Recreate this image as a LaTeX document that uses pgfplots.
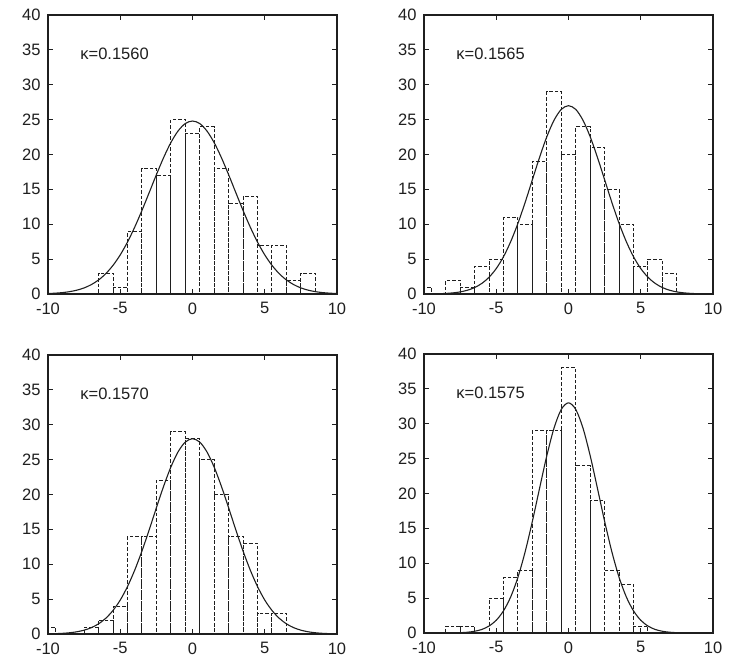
\documentclass[border=0pt]{standalone}
\usepackage{pgfplots}
\pgfplotsset{compat=1.18}
\usepackage{fontspec}
\setmainfont{Liberation Sans}
\definecolor{ink}{gray}{0.12}
\pgfplotsset{
  hist/.style={
    scale only axis, width=289bp, height=279bp,
    anchor=south west,
    xmin=-10, xmax=10, ymin=0, ymax=40,
    xtick={-10,-5,0,5,10}, ytick={0,5,...,40},
    tick align=inside, major tick length=5bp,
    axis line style={ink, line width=1.3bp},
    every tick/.style={ink, line width=1bp},
    /pgf/number format/assume math mode=true,
    ticklabel style={font=\fontsize{16.5bp}{18bp}\selectfont, text=ink},
    yticklabel style={xshift=-4bp},
    xticklabel style={yshift=-5bp},
    clip=true,
  },
  bars/.style={ybar, bar width=1, bar shift=0pt, draw=ink, fill=none, line width=1bp, dash pattern=on 3.5bp off 2bp},
  fit/.style={smooth, ink, line width=1.1bp, mark=none},
}
\begin{document}
\begin{tikzpicture}
\useasboundingbox (0,0) rectangle (731bp,-660bp);
% top left
\begin{axis}[hist, at={(48bp,-294bp)}]
\addplot[bars] coordinates {(-6,3)(-5,1)(-4,9)(-3,18)(-2,17)(-1,25)(0,23)(1,24)(2,18)(3,13)(4,14)(5,7)(6,7)(7,2)(8,3)};
\addplot[fit] coordinates {(-10,0.065)(-9.5,0.12)(-9,0.20)(-8.5,0.34)(-8,0.55)(-7.5,0.87)(-7,1.35)(-6.5,2.01)(-6,2.92)(-5.5,4.11)(-5,5.61)(-4.5,7.44)(-4,9.58)(-3.5,11.97)(-3,14.52)(-2.5,17.10)(-2,19.55)(-1.5,21.70)(-1,23.37)(-0.5,24.44)(0,24.8)(0.5,24.44)(1,23.37)(1.5,21.70)(2,19.55)(2.5,17.10)(3,14.52)(3.5,11.97)(4,9.58)(4.5,7.44)(5,5.61)(5.5,4.11)(6,2.92)(6.5,2.01)(7,1.35)(7.5,0.87)(8,0.55)(8.5,0.34)(9,0.20)(9.5,0.12)(10,0.065)};
\node[anchor=west, text=ink, font=\fontsize{16.5bp}{18bp}\selectfont] at (axis cs:-8,34.5) {κ=0.1560};
\end{axis}
% top right
\begin{axis}[hist, at={(424bp,-294bp)}]
\addplot[bars] coordinates {(-10,1)(-8,2)(-7,1)(-6,4)(-5,5)(-4,11)(-3,10)(-2,19)(-1,29)(0,20)(1,24)(2,21)(3,15)(4,10)(5,4)(6,5)(7,3)};
\addplot[fit] coordinates {(-10,0.01)(-9,0.041)(-8.5,0.083)(-8,0.16)(-7.5,0.30)(-7,0.54)(-6.5,0.92)(-6,1.52)(-5.5,2.40)(-5,3.65)(-4.5,5.34)(-4,7.51)(-3.5,10.13)(-3,13.14)(-2.5,16.38)(-2,19.61)(-1.5,22.55)(-1,24.92)(-0.5,26.47)(0,27)(0.5,26.47)(1,24.92)(1.5,22.55)(2,19.61)(2.5,16.38)(3,13.14)(3.5,10.13)(4,7.51)(4.5,5.34)(5,3.65)(5.5,2.40)(6,1.52)(6.5,0.92)(7,0.54)(7.5,0.30)(8,0.16)(8.5,0.083)(9,0.041)(10,0.01)};
\node[anchor=west, text=ink, font=\fontsize{16.5bp}{18bp}\selectfont] at (axis cs:-8,34.5) {κ=0.1565};
\end{axis}
% bottom left
\begin{axis}[hist, at={(48bp,-634bp)}]
\addplot[bars] coordinates {(-10,1)(-7,1)(-6,2)(-5,4)(-4,14)(-3,14)(-2,22)(-1,29)(0,28)(1,25)(2,20)(3,14)(4,13)(5,3)(6,3)};
\addplot[fit] coordinates {(-10,0.026)(-9.5,0.051)(-9,0.097)(-8.5,0.18)(-8,0.32)(-7.5,0.55)(-7,0.91)(-6.5,1.46)(-6,2.26)(-5.5,3.38)(-5,4.87)(-4.5,6.80)(-4,9.15)(-3.5,11.89)(-3,14.92)(-2.5,18.09)(-2,21.17)(-1.5,23.92)(-1,26.11)(-0.5,27.52)(0,28)(0.5,27.52)(1,26.11)(1.5,23.92)(2,21.17)(2.5,18.09)(3,14.92)(3.5,11.89)(4,9.15)(4.5,6.80)(5,4.87)(5.5,3.38)(6,2.26)(6.5,1.46)(7,0.91)(7.5,0.55)(8,0.32)(8.5,0.18)(9,0.097)(9.5,0.051)(10,0.026)};
\node[anchor=west, text=ink, font=\fontsize{16.5bp}{18bp}\selectfont] at (axis cs:-8,34.5) {κ=0.1570};
\end{axis}
% bottom right
\begin{axis}[hist, at={(424bp,-633bp)}]
\addplot[bars] coordinates {(-8,1)(-7,1)(-5,5)(-4,8)(-3,9)(-2,29)(-1,29)(0,38)(1,24)(2,19)(3,9)(4,7)(5,1)};
\addplot[fit] coordinates {(-10,0.001)(-8,0.02)(-7.5,0.049)(-7,0.11)(-6.5,0.25)(-6,0.51)(-5.5,1.00)(-5,1.83)(-4.5,3.17)(-4,5.18)(-3.5,7.99)(-3,11.65)(-2.5,16.01)(-2,20.77)(-1.5,25.43)(-1,29.39)(-0.5,32.06)(0,33)(0.5,32.06)(1,29.39)(1.5,25.43)(2,20.77)(2.5,16.01)(3,11.65)(3.5,7.99)(4,5.18)(4.5,3.17)(5,1.83)(5.5,1.00)(6,0.51)(6.5,0.25)(7,0.11)(7.5,0.049)(8,0.02)(10,0.001)};
\node[anchor=west, text=ink, font=\fontsize{16.5bp}{18bp}\selectfont] at (axis cs:-8,34.5) {κ=0.1575};
\end{axis}
\end{tikzpicture}
\end{document}
